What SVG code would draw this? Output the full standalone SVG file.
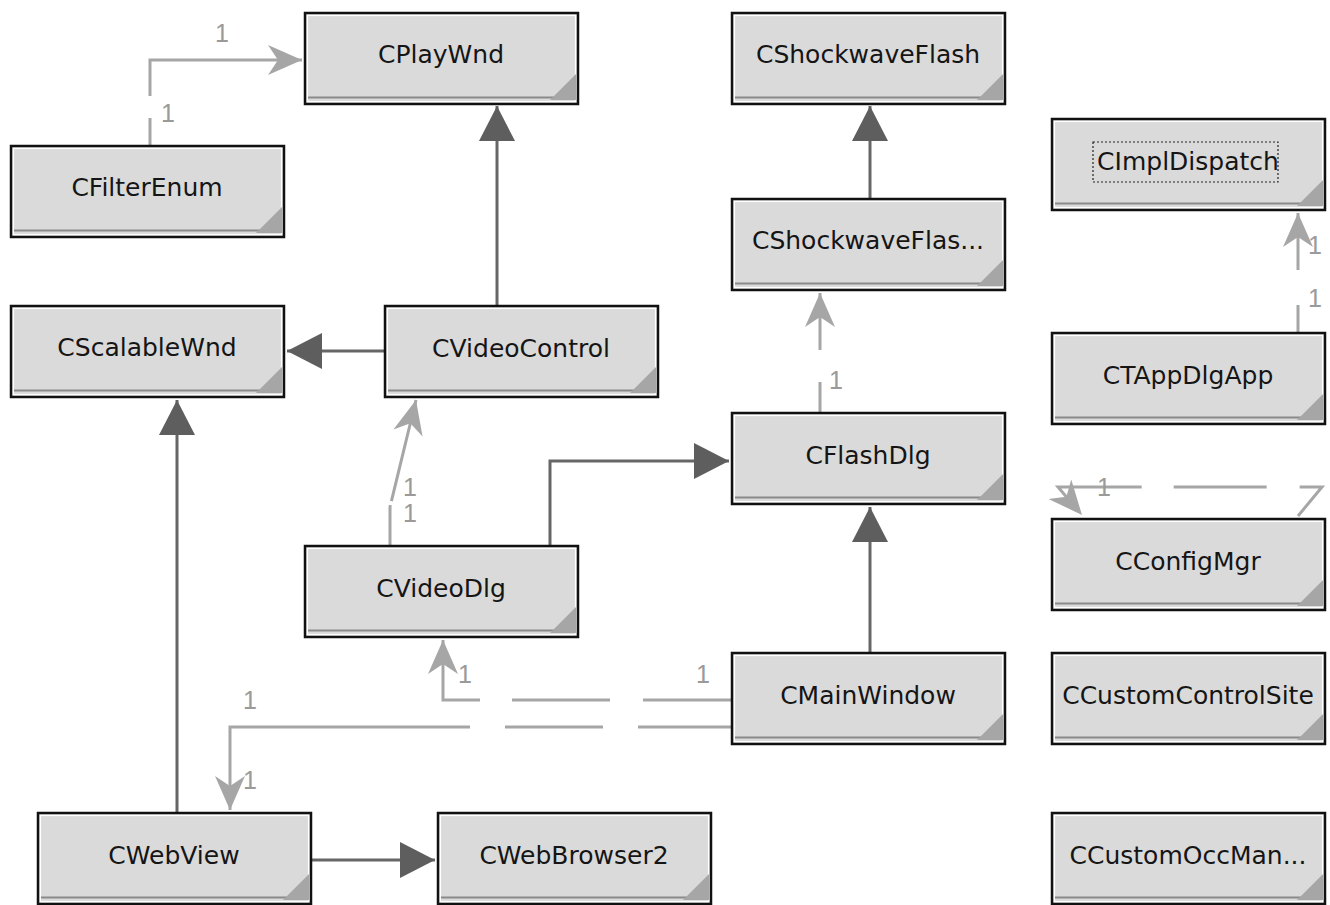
<svg xmlns="http://www.w3.org/2000/svg" xmlns:xlink="http://www.w3.org/1999/xlink" width="1330" height="905" viewBox="0 0 1330 905">
<style>
.lbl{font-family:"DejaVu Sans","Liberation Sans",sans-serif;font-size:25px;fill:#151515;text-anchor:middle}
.m{font-family:"Liberation Sans",sans-serif;font-size:25px;fill:#9a9a9a;text-anchor:middle}
.solid{fill:none;stroke:#666;stroke-width:3}
.dash{fill:none;stroke:#a6a6a6;stroke-width:3;stroke-dasharray:92 33}
</style>
<defs>
<g id="box">
<rect x="1" y="1" width="273" height="91" fill="#dadada" stroke="#111" stroke-width="2.5"/>
<rect x="3.5" y="3.5" width="268" height="86" fill="none" stroke="#fff" stroke-width="1.2"/>
<line x1="4" y1="85.5" x2="270" y2="85.5" stroke="#8a8a8a" stroke-width="2"/>
<path d="M272,62 L272,88 L246,88 Z" fill="#a6a6a6"/>
</g>
<marker id="tri" viewBox="-36 -19 37 38" refX="0" refY="0" markerWidth="37" markerHeight="38" markerUnits="userSpaceOnUse" orient="auto">
<path d="M0,0 L-35,-18 L-35,18 Z" fill="#5e5e5e"/>
</marker>
<marker id="open" viewBox="-36 -17 37 34" refX="0" refY="0" markerWidth="37" markerHeight="34" markerUnits="userSpaceOnUse" orient="auto">
<path d="M0,0 L-34,-15 L-24,0 L-34,15 Z" fill="#a6a6a6"/>
</marker>
</defs>
<rect width="1330" height="905" fill="#fff"/>

<g id="connectors">
<path class="solid" d="M497,305 L497,106" marker-end="url(#tri)"/>
<path class="solid" d="M384,351 L287,351" marker-end="url(#tri)"/>
<path class="solid" d="M870,198 L870,106" marker-end="url(#tri)"/>
<path class="solid" d="M550,545 L550,461 L729,461" marker-end="url(#tri)"/>
<path class="solid" d="M870,652 L870,507" marker-end="url(#tri)"/>
<path class="solid" d="M177,812 L177,400" marker-end="url(#tri)"/>
<path class="solid" d="M312,860 L435,860" marker-end="url(#tri)"/>

<path class="dash" style="stroke-dasharray:27 22 200" d="M150,145 L150,60 L302,60" marker-end="url(#open)"/>
<path class="dash" style="stroke-dasharray:30 32 200" d="M820,412 L820,293" marker-end="url(#open)"/>
<path class="dash" style="stroke-dasharray:27 35 200" d="M1298,332 L1298,213" marker-end="url(#open)"/>
<path class="dash" style="stroke-dasharray:40 4 200" d="M390,545 L390,507 L416,400" marker-end="url(#open)"/>
<path class="dash" style="stroke-dasharray:60 33 93 32 100 36 200" d="M1298,516 L1322,487 L1058,487 L1082,515" marker-end="url(#open)"/>
<path class="dash" style="stroke-dasharray:88 33 98 32 1000" d="M731,700 L443,700 L443,640" marker-end="url(#open)"/>
<path class="dash" style="stroke-dasharray:93 35 98 35 1000" d="M731,727 L230,727 L230,810" marker-end="url(#open)"/>

<text class="m" x="222" y="42">1</text>
<text class="m" x="168" y="122">1</text>
<text class="m" x="836" y="389">1</text>
<text class="m" x="1315" y="254">1</text>
<text class="m" x="1315" y="307">1</text>
<text class="m" x="410" y="496">1</text>
<text class="m" x="410" y="522">1</text>
<text class="m" x="1104" y="496">1</text>
<text class="m" x="465" y="683">1</text>
<text class="m" x="703" y="683">1</text>
<text class="m" x="250" y="709">1</text>
<text class="m" x="250" y="789">1</text>
</g>

<g id="CPlayWnd" transform="translate(304,12)"><use xlink:href="#box" href="#box"/><text class="lbl" x="137" y="51">CPlayWnd</text></g>
<g id="CFilterEnum" transform="translate(10,145)"><use xlink:href="#box" href="#box"/><text class="lbl" x="137" y="51">CFilterEnum</text></g>
<g id="CShockwaveFlash" transform="translate(731,12)"><use xlink:href="#box" href="#box"/><text class="lbl" x="137" y="51">CShockwaveFlash</text></g>
<g id="CShockwaveFlas2" transform="translate(731,198)"><use xlink:href="#box" href="#box"/><text class="lbl" x="137" y="51">CShockwaveFlas...</text></g>
<g id="CImplDispatch" transform="translate(1051,118)"><use xlink:href="#box" href="#box"/><rect x="42" y="24" width="185" height="40" fill="none" stroke="#222" stroke-width="1.2" stroke-dasharray="2 2"/><text class="lbl" x="137" y="52">CImplDispatch</text></g>
<g id="CScalableWnd" transform="translate(10,305)"><use xlink:href="#box" href="#box"/><text class="lbl" x="137" y="51">CScalableWnd</text></g>
<g id="CVideoControl" transform="translate(384,305)"><use xlink:href="#box" href="#box"/><text class="lbl" x="137" y="52">CVideoControl</text></g>
<g id="CTAppDlgApp" transform="translate(1051,332)"><use xlink:href="#box" href="#box"/><text class="lbl" x="137" y="52">CTAppDlgApp</text></g>
<g id="CFlashDlg" transform="translate(731,412)"><use xlink:href="#box" href="#box"/><text class="lbl" x="137" y="52">CFlashDlg</text></g>
<g id="CConfigMgr" transform="translate(1051,518)"><use xlink:href="#box" href="#box"/><text class="lbl" x="137" y="52">CConfigMgr</text></g>
<g id="CVideoDlg" transform="translate(304,545)"><use xlink:href="#box" href="#box"/><text class="lbl" x="137" y="52">CVideoDlg</text></g>
<g id="CMainWindow" transform="translate(731,652)"><use xlink:href="#box" href="#box"/><text class="lbl" x="137" y="52">CMainWindow</text></g>
<g id="CCustomControlSite" transform="translate(1051,652)"><use xlink:href="#box" href="#box"/><text class="lbl" x="137" y="52">CCustomControlSite</text></g>
<g id="CWebView" transform="translate(37,812)"><use xlink:href="#box" href="#box"/><text class="lbl" x="137" y="52">CWebView</text></g>
<g id="CWebBrowser2" transform="translate(437,812)"><use xlink:href="#box" href="#box"/><text class="lbl" x="137" y="52">CWebBrowser2</text></g>
<g id="CCustomOccMan" transform="translate(1051,812)"><use xlink:href="#box" href="#box"/><text class="lbl" x="137" y="52">CCustomOccMan...</text></g>
</svg>
